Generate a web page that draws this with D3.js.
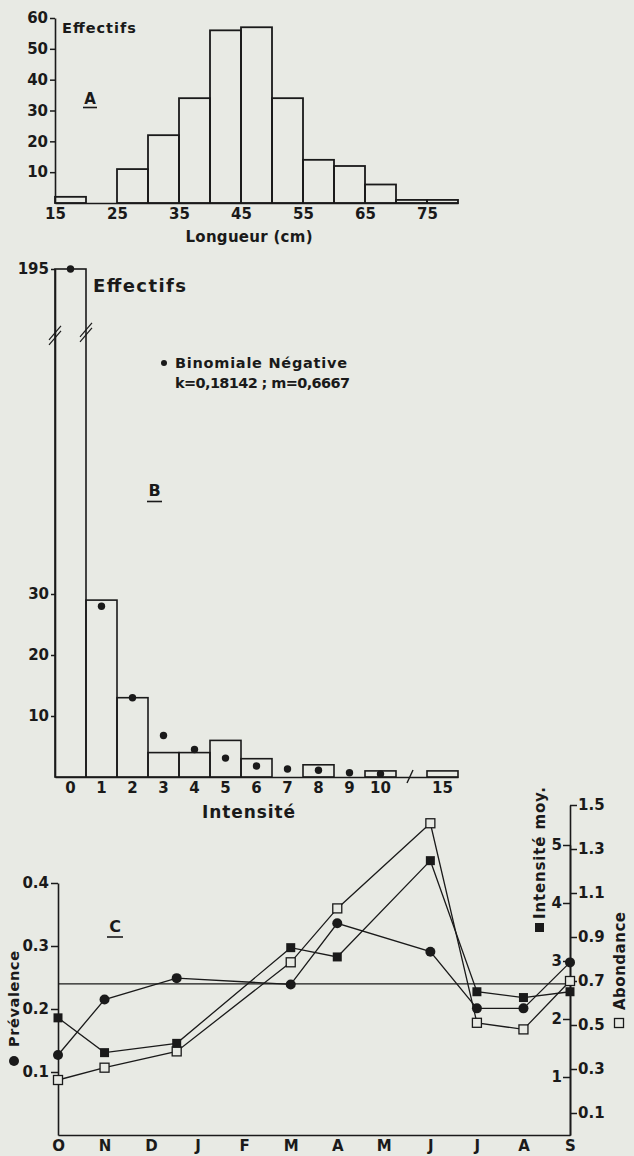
<!DOCTYPE html>
<html>
<head>
<meta charset="utf-8">
<script src="https://cdn.jsdelivr.net/npm/d3@7"></script>
<style>
body { margin: 0; background: #e8eae4; }
svg text { font-family: "DejaVu Sans", sans-serif; font-weight: bold; fill: #1a1a1a; }
.tick text { font-size: 15px; }
</style>
</head>
<body>
<div id="fig"></div>
<script>
// --- A : longueur
var lengthBins = [15, 20, 25, 30, 35, 40, 45, 50, 55, 60, 65, 70, 75];
var lengthCounts = [2, 0, 11, 22, 34, 56, 57, 34, 14, 12, 6, 1, 1];
var lengthTicks = [15, 25, 35, 45, 55, 65, 75];
var countTicksA = [10, 20, 30, 40, 50, 60];

// --- B : intensite
var intensCats = ["0", "1", "2", "3", "4", "5", "6", "7", "8", "9", "10", "gap", "15"];
var intensObs = [195, 29, 13, 4, 4, 6, 3, 0, 2, 0, 1, null, 1];
var intensNB = [195, 28, 13, 6.8, 4.5, 3.1, 1.8, 1.3, 1.1, 0.7, 0.5, null, null];
var countTicksB = [10, 20, 30, 195];

// --- C : saisons
var months = ["O", "N", "D", "J", "F", "M", "A", "M", "J", "J", "A", "S"];
var sampleMonth = [0, 1, 2.55, 5, 6, 8, 9, 10, 11];
var prevalence = [0.127, 0.215, 0.249, 0.239, 0.336, 0.291, 0.201, 0.201, 0.274];
var intensiteMoy = [2.02, 1.42, 1.58, 3.23, 3.07, 4.73, 2.47, 2.37, 2.47];
var abondance = [0.25, 0.306, 0.38, 0.785, 1.03, 1.417, 0.51, 0.48, 0.70];
var prevRef = 0.24;
var prevTicks = [0.1, 0.2, 0.3, 0.4];
var intTicks = [1, 2, 3, 4, 5];
var abTicks = [0.1, 0.3, 0.5, 0.7, 0.9, 1.1, 1.3, 1.5];

var ink = "#1a1a1a";
var paper = "#e8eae4";
var W = 634, H = 1156;

var svg = d3.select("#fig").append("svg")
  .attr("width", W)
  .attr("height", H);

function styleAxis(g) {
  g.attr("color", ink);
  g.select(".domain").attr("stroke-width", 1.6);
  g.selectAll(".tick line").attr("stroke-width", 1.5);
}

// ================= A =================
var xA = d3.scaleLinear().domain([15, 80]).range([55, 458]);
var yA = d3.scaleLinear().domain([0, 60]).range([203, 18]);

svg.selectAll(".barA")
  .data(lengthBins)
  .enter()
  .append("rect")
  .attr("class", "barA")
  .attr("x", function(d) { return xA(d); })
  .attr("y", function(d, i) { return yA(lengthCounts[i]); })
  .attr("width", function(d) { return xA(d + 5) - xA(d); })
  .attr("height", function(d, i) { return yA(0) - yA(lengthCounts[i]); })
  .attr("fill", "none")
  .attr("stroke", ink)
  .attr("stroke-width", 1.8);

svg.append("g")
  .attr("transform", "translate(" + xA(15) + ",0)")
  .call(d3.axisLeft(yA).tickValues(countTicksA).tickSize(5).tickPadding(2).tickSizeOuter(0))
  .call(styleAxis);

svg.append("g")
  .attr("transform", "translate(0," + yA(0) + ")")
  .call(d3.axisBottom(xA).tickValues(lengthTicks).tickSize(0).tickPadding(5).tickSizeOuter(0))
  .call(styleAxis);

svg.append("text").attr("x", 62).attr("y", 33)
  .attr("font-size", 14.5).attr("textLength", 74).text("Effectifs");
svg.append("text").attr("x", 249).attr("y", 242).attr("text-anchor", "middle")
  .attr("font-size", 15).attr("textLength", 127).text("Longueur (cm)");
svg.append("text").attr("x", 90).attr("y", 104).attr("text-anchor", "middle")
  .attr("font-size", 15).text("A");
svg.append("line").attr("x1", 83).attr("x2", 97).attr("y1", 107.5).attr("y2", 107.5)
  .attr("stroke", ink).attr("stroke-width", 1.6);

// ================= B =================
var xB = d3.scaleBand().domain(intensCats).range([55, 458]).paddingInner(0);
var yB = d3.scaleLinear().domain([0, 30, 195]).range([777, 594, 269]);

var barsB = intensCats.filter(function(d, i) { return intensObs[i] != null && intensObs[i] > 0; });

svg.selectAll(".barB")
  .data(barsB)
  .enter()
  .append("rect")
  .attr("class", "barB")
  .attr("x", function(d) { return xB(d); })
  .attr("y", function(d) { return yB(intensObs[intensCats.indexOf(d)]); })
  .attr("width", xB.bandwidth())
  .attr("height", function(d) { return yB(0) - yB(intensObs[intensCats.indexOf(d)]); })
  .attr("fill", "none")
  .attr("stroke", ink)
  .attr("stroke-width", 1.6);

var dotsB = intensCats.filter(function(d, i) { return intensNB[i] != null; });
svg.selectAll(".dotB")
  .data(dotsB)
  .enter()
  .append("circle")
  .attr("class", "dotB")
  .attr("cx", function(d) { return xB(d) + xB.bandwidth() / 2; })
  .attr("cy", function(d) { return yB(intensNB[intensCats.indexOf(d)]); })
  .attr("r", 3.7)
  .attr("fill", ink);

svg.append("g")
  .attr("transform", "translate(" + xB("0") + ",0)")
  .call(d3.axisLeft(yB).tickValues(countTicksB).tickSize(4).tickPadding(2).tickSizeOuter(0)
    .tickFormat(d3.format("d")))
  .call(styleAxis);

svg.append("g")
  .attr("transform", "translate(0," + yB(0) + ")")
  .call(d3.axisBottom(xB).tickValues(intensCats.filter(function(d) { return d != "gap"; }))
    .tickSize(0).tickPadding(5).tickSizeOuter(0))
  .call(styleAxis);

// break marks on bar 0
var yBreak = yB(160);
[xB("0"), xB("0") + xB.bandwidth()].forEach(function(x, k) {
  var yy = yBreak - k * 3;
  [0, 5].forEach(function(off) {
    svg.append("line")
      .attr("x1", x - 6).attr("y1", yy + 7 - off)
      .attr("x2", x + 6).attr("y2", yy - 7 - off)
      .attr("stroke", ink).attr("stroke-width", 1.2);
  });
});
// break on x axis
var xGap = xB("gap") + 14;
svg.append("line")
  .attr("x1", xGap - 3).attr("y1", yB(0) + 6)
  .attr("x2", xGap + 3).attr("y2", yB(0) - 7)
  .attr("stroke", ink).attr("stroke-width", 1.4);

svg.append("text").attr("x", 93).attr("y", 292)
  .attr("font-size", 18).attr("textLength", 93).text("Effectifs");
svg.append("circle").attr("cx", 164).attr("cy", 363).attr("r", 3).attr("fill", ink);
svg.append("text").attr("x", 175).attr("y", 368)
  .attr("font-size", 14.5).attr("textLength", 172).text("Binomiale Négative");
svg.append("text").attr("x", 175).attr("y", 388)
  .attr("font-size", 14.5).attr("textLength", 175).text("k=0,18142 ; m=0,6667");
svg.append("text").attr("x", 154.5).attr("y", 496).attr("text-anchor", "middle")
  .attr("font-size", 16).text("B");
svg.append("line").attr("x1", 147).attr("x2", 162).attr("y1", 501.5).attr("y2", 501.5)
  .attr("stroke", ink).attr("stroke-width", 1.6);
svg.append("text").attr("x", 202).attr("y", 818)
  .attr("font-size", 17).attr("textLength", 93).text("Intensité");

// ================= C =================
var xC = d3.scaleLinear().domain([0, 11]).range([58, 570]);
var prevY = d3.scaleLinear().domain([0, 0.4]).range([1135, 883]);
var intY = d3.scaleLinear().domain([0, 5]).range([1135, 845]);
var abY = d3.scaleLinear().domain([0, 1.5]).range([1135, 805]);

svg.append("g")
  .attr("transform", "translate(" + xC(0) + ",0)")
  .call(d3.axisLeft(prevY).tickValues(prevTicks).tickSize(7).tickPadding(2).tickSizeOuter(0)
    .tickFormat(d3.format(".1f")))
  .call(styleAxis);

svg.append("g")
  .attr("transform", "translate(" + xC(11) + ",0)")
  .call(d3.axisLeft(intY).tickValues(intTicks).tickSize(7).tickPadding(1).tickSizeOuter(0)
    .tickFormat(d3.format("d")))
  .call(styleAxis);

svg.append("g")
  .attr("transform", "translate(" + xC(11) + ",0)")
  .call(d3.axisRight(abY).tickValues(abTicks).tickSize(7).tickPadding(1).tickSizeOuter(0)
    .tickFormat(d3.format(".1f")))
  .call(styleAxis);

svg.append("g")
  .attr("transform", "translate(0," + prevY(0) + ")")
  .call(d3.axisBottom(xC).tickValues(d3.range(12)).tickSize(0).tickPadding(5).tickSizeOuter(0)
    .tickFormat(function(d) { return months[d]; }))
  .call(styleAxis);

svg.append("line")
  .attr("x1", xC(0)).attr("x2", xC(11))
  .attr("y1", prevY(prevRef)).attr("y2", prevY(prevRef))
  .attr("stroke", ink).attr("stroke-width", 1.3);

var series = [
  { vals: prevalence, y: prevY },
  { vals: intensiteMoy, y: intY },
  { vals: abondance, y: abY }
];
series.forEach(function(s) {
  var line = d3.line()
    .x(function(d, i) { return xC(sampleMonth[i]); })
    .y(function(d) { return s.y(d); });
  svg.append("path")
    .attr("d", line(s.vals))
    .attr("fill", "none")
    .attr("stroke", ink)
    .attr("stroke-width", 1.3);
});

svg.selectAll(".ab")
  .data(abondance)
  .enter()
  .append("rect")
  .attr("class", "ab")
  .attr("x", function(d, i) { return xC(sampleMonth[i]) - 4.5; })
  .attr("y", function(d) { return abY(d) - 4.5; })
  .attr("width", 9).attr("height", 9)
  .attr("fill", paper).attr("stroke", ink).attr("stroke-width", 1.3);

svg.selectAll(".im")
  .data(intensiteMoy)
  .enter()
  .append("rect")
  .attr("class", "im")
  .attr("x", function(d, i) { return xC(sampleMonth[i]) - 4.5; })
  .attr("y", function(d) { return intY(d) - 4.5; })
  .attr("width", 9).attr("height", 9)
  .attr("fill", ink);

svg.selectAll(".pv")
  .data(prevalence)
  .enter()
  .append("circle")
  .attr("class", "pv")
  .attr("cx", function(d, i) { return xC(sampleMonth[i]); })
  .attr("cy", function(d) { return prevY(d); })
  .attr("r", 5)
  .attr("fill", ink);

// C labels
svg.append("text").attr("x", 115).attr("y", 932).attr("text-anchor", "middle")
  .attr("font-size", 16).text("C");
svg.append("line").attr("x1", 107).attr("x2", 123).attr("y1", 937).attr("y2", 937)
  .attr("stroke", ink).attr("stroke-width", 1.6);

svg.append("circle").attr("cx", 14).attr("cy", 1061).attr("r", 5).attr("fill", ink);
svg.append("text")
  .attr("transform", "translate(19,1047)rotate(-90)")
  .attr("font-size", 14.5).attr("textLength", 96).text("Prévalence");

svg.append("rect").attr("x", 535).attr("y", 923).attr("width", 9).attr("height", 9).attr("fill", ink);
svg.append("text")
  .attr("transform", "translate(545,919)rotate(-90)")
  .attr("font-size", 15).attr("textLength", 132).text("Intensité moy.");

svg.append("rect").attr("x", 614.5).attr("y", 1018.5).attr("width", 9).attr("height", 9)
  .attr("fill", paper).attr("stroke", ink).attr("stroke-width", 1.3);
svg.append("text")
  .attr("transform", "translate(625,1010)rotate(-90)")
  .attr("font-size", 15).attr("textLength", 98).text("Abondance");
</script>
</body>
</html>
